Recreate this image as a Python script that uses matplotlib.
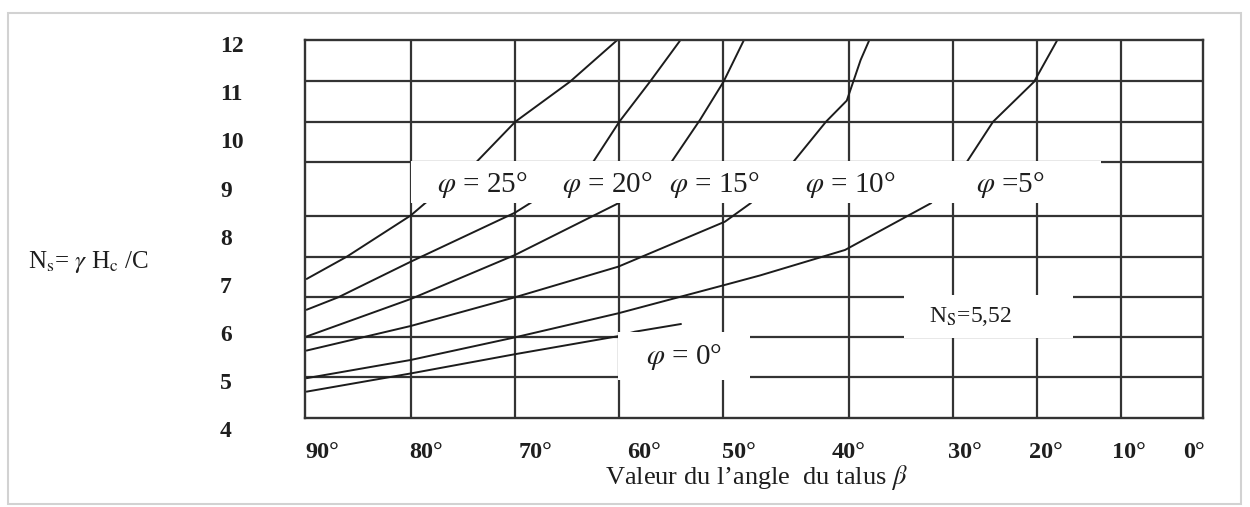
import numpy as np
import matplotlib
matplotlib.use("Agg")
import matplotlib.pyplot as plt
from matplotlib.patches import Rectangle
from matplotlib.transforms import blended_transform_factory

plt.rcParams["font.family"] = ["Liberation Serif", "DejaVu Serif"]
plt.rcParams["mathtext.fontset"] = "stix"

# ---------------------------------------------------------------- data
beta_ticks = [90, 80, 70, 60, 50, 40, 30, 20, 10, 0]
beta_tick_labels = ["90°", "80°", "70°", "60°", "50°", "40°", "30°", "20°", "10°", "0°"]
ns_ticks = [4, 5, 6, 7, 8, 9, 10, 11, 12]

# stability number Ns against slope angle beta, one curve per friction angle
phi25_beta = [89.9, 86.05, 80.0, 78.63, 73.67, 69.97, 64.71, 60.16]
phi25_ns = [7.167, 7.636, 8.492, 8.746, 9.610, 10.441, 11.273, 12.139]

phi20_beta = [89.9, 86.85, 80.0, 70.0, 68.56, 62.47, 59.97, 57.03, 54.15]
phi20_ns = [6.529, 6.793, 7.532, 8.551, 8.746, 9.610, 10.441, 11.273, 12.125]

phi15_beta = [89.9, 80.0, 70.0, 60.07, 54.95, 52.24, 49.98, 48.36]
phi15_ns = [5.974, 6.757, 7.672, 8.746, 9.610, 10.477, 11.273, 12.139]

phi10_beta = [89.9, 80.0, 70.0, 60.07, 49.87, 47.84, 44.43, 41.85, 40.2, 39.62, 38.91, 38.10]
phi10_ns = [5.683, 6.196, 6.793, 7.429, 8.364, 8.746, 9.610, 10.441, 10.880, 11.273, 11.724, 12.125]

phi5_beta = [89.9, 80.0, 70.0, 60.07, 49.87, 47.09, 40.34, 32.16, 28.37, 25.27, 20.39, 17.64]
phi5_ns = [5.110, 5.490, 5.960, 6.460, 7.050, 7.246, 7.776, 8.746, 9.610, 10.440, 11.270, 12.125]

phi0_beta = [89.9, 80.0, 70.0, 60.07, 58.47, 53.99]
phi0_ns = [4.830, 5.210, 5.610, 5.985, 6.078, 6.240]

curves = [
    (phi25_beta, phi25_ns),
    (phi20_beta, phi20_ns),
    (phi15_beta, phi15_ns),
    (phi10_beta, phi10_ns),
    (phi5_beta, phi5_ns),
    (phi0_beta, phi0_ns),
]

# ---------------------------------------------------------------- layout
W, H = 1250, 507
rule_px = [305.0, 410.7, 515.0, 619.0, 723.3, 849.3, 953.3, 1037.3, 1120.7, 1203.3]
box_top_px, box_bottom_px = 40.0, 418.3
# horizontal rules (in Ns units) inside the frame
rule_ns = [5.130, 5.962, 6.805, 7.636, 8.482, 9.610, 10.441, 11.287]
ns_lim = (4.278, 12.139)
xlabel_px = [322.5, 425.8, 535.8, 644.0, 739.0, 848.3, 965.0, 1045.8, 1129.0, 1194.0]

# the beta axis is piecewise linear between the vertical rules;
# position is measured leftwards from the 0 degree rule
_b = np.array([-100.0] + beta_ticks[::-1] + [190.0])
_inner = [rule_px[-1] - p for p in rule_px[::-1]]
_p = np.array([-100 * 8.26] + _inner + [_inner[-1] + 100 * 10.57])


def beta_to_pos(b):
    return np.interp(b, _b, _p)


def pos_to_beta(p):
    return np.interp(p, _p, _b)


fig = plt.figure(figsize=(W / 100, H / 100), dpi=100)
fig.patch.set_facecolor("white")

ax = fig.add_axes([rule_px[0] / W, 1 - box_bottom_px / H,
                   (rule_px[-1] - rule_px[0]) / W, (box_bottom_px - box_top_px) / H])
ax.set_xscale("function", functions=(beta_to_pos, pos_to_beta))
ax.set_xlim(90, 0)
ax.set_ylim(*ns_lim)
ax.set_xticks(beta_ticks[1:-1])
ax.set_yticks(rule_ns)
ax.tick_params(length=0, labelbottom=False, labelleft=False)
ax.set_axisbelow(True)
ax.grid(True, color="#333333", lw=1.6)
for s in ax.spines.values():
    s.set_color("#333333")
    s.set_linewidth(1.7)
    s.set_zorder(5)

for b, n in curves:
    ax.plot(b, n, color="#1c1c1c", lw=1.4, zorder=2, solid_capstyle="butt",
            solid_joinstyle="round")

# white label patches laid over the grid
patches = [
    ((80.0, 8.742), 12.36 - 80.0, 9.635 - 8.742),   # band of phi labels
    ((60.14, 5.074), 47.88 - 60.14, 6.078 - 5.074),  # phi = 0 label
    ((34.74, 5.937), 15.68 - 34.74, 6.830 - 5.937),  # Ns = 5,52 label
]
for xy, w, h in patches:
    ax.add_patch(Rectangle(xy, w, h, facecolor="white", edgecolor="none", zorder=3))

txt = dict(color="#1e1e1e", ha="center", va="center", zorder=6)
band_y = 185.0
for label, cx in [(r"$\varphi$ = 25°", 482.5), (r"$\varphi$ = 20°", 607.5),
                  (r"$\varphi$ = 15°", 714.0), (r"$\varphi$ = 10°", 850.0),
                  (r"$\varphi$ =5°", 1010.0)]:
    fig.text(cx / W, 1 - band_y / H, label, fontsize=21, **txt)
fig.text(683.5 / W, 1 - 356.7 / H, r"$\varphi$ = 0°", fontsize=21, **txt)
fig.text(970.7 / W, 1 - 316.7 / H, r"N$_\mathrm{S}$=5,52", fontsize=17, **txt)

# tick labels
ytrans = blended_transform_factory(fig.transFigure, ax.transData)
for v in ns_ticks:
    ax.text(220 / W, v, str(v), transform=ytrans, ha="left", va="center",
            fontsize=17, fontweight="bold", color="#1e1e1e", clip_on=False)
for lab, cx in zip(beta_tick_labels, xlabel_px):
    fig.text(cx / W, 1 - 452.0 / H, lab, ha="center", va="center",
             fontsize=17.5, fontweight="bold", color="#1e1e1e")

fig.text(756 / W, 1 - 478.0 / H, "Valeur du l’angle  du talus $\\beta$",
         ha="center", va="center", fontsize=19, color="#1e1e1e")
fig.text(28 / W, 1 - 261.7 / H, r"N$_\mathrm{s}$= $\gamma$ H$_\mathrm{c}$ /C",
         ha="left", va="center", fontsize=18, color="#1e1e1e")

# outer frame
fig.add_artist(Rectangle((8 / W, 1 - 504 / H), 1233 / W, 491 / H,
                         transform=fig.transFigure, facecolor="none",
                         edgecolor="#d2d2d2", lw=1.5))

fig.savefig("out.png", dpi=100)
